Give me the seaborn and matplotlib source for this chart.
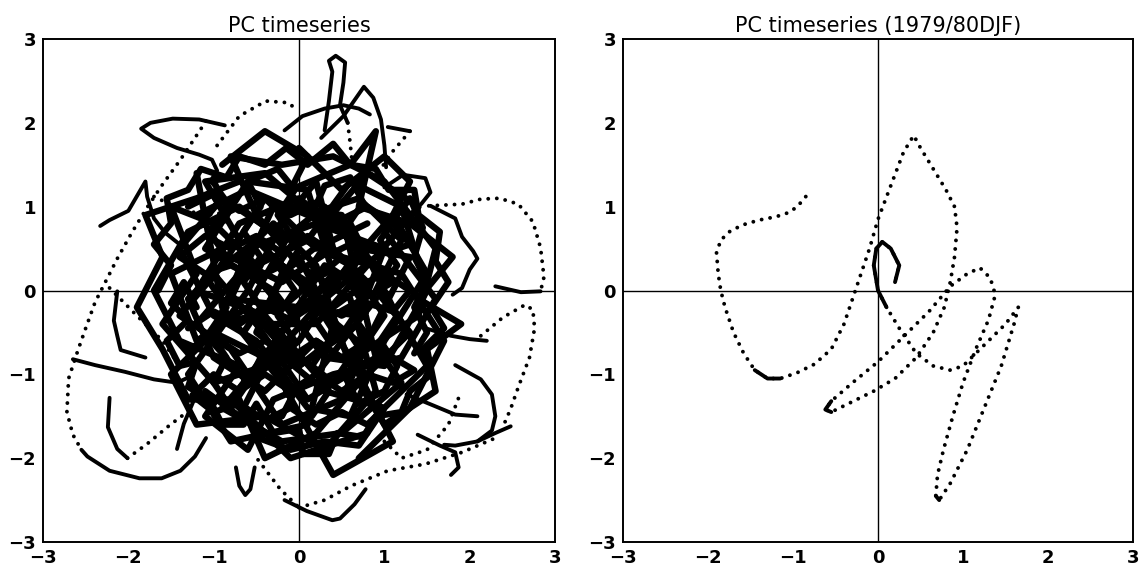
import numpy as np
import matplotlib
matplotlib.use("Agg")
import matplotlib.pyplot as plt
import seaborn as sns

# ---- right panel: 1979/80 DJF trajectory (PC1, PC2) ----
djf_x = [-0.85, -0.95, -1.05, -1.2, -1.4, -1.6, -1.75, -1.85, -1.9, -1.88, -1.85, -1.8, -1.7, -1.58,
         -1.45, -1.3, -1.15, -0.95, -0.75, -0.55, -0.4, -0.3, -0.2, -0.1, 0.0, 0.15, 0.3, 0.42,
         0.5, 0.65, 0.8, 0.9, 0.93, 0.9, 0.85, 0.78, 0.65, 0.45, 0.2, -0.05, -0.35, -0.55, -0.62,
         -0.55, -0.3, 0.0, 0.3, 0.6, 0.85, 1.05, 1.2, 1.32, 1.38, 1.3, 1.15, 1.0, 0.88, 0.77,
         0.7, 0.68, 0.72, 0.85, 1.05, 1.25, 1.45, 1.6, 1.65, 1.5, 1.3, 1.15, 1.0, 0.85, 0.65,
         0.45, 0.25, 0.1, 0.0, -0.05, -0.02, 0.05, 0.15, 0.25, 0.2]
djf_y = [1.12, 1.0, 0.93, 0.88, 0.84, 0.78, 0.7, 0.6, 0.45, 0.2, 0.0, -0.2, -0.5, -0.75,
         -0.95, -1.05, -1.05, -0.98, -0.88, -0.7, -0.4, -0.1, 0.2, 0.5, 0.85, 1.25, 1.65, 1.85,
         1.7, 1.45, 1.2, 1.0, 0.75, 0.4, 0.1, -0.2, -0.5, -0.8, -1.05, -1.2, -1.35, -1.45, -1.42,
         -1.32, -1.1, -0.85, -0.55, -0.25, 0.05, 0.2, 0.27, 0.15, -0.05, -0.35, -0.7, -1.1, -1.5, -1.9,
         -2.2, -2.45, -2.5, -2.3, -1.9, -1.4, -0.9, -0.4, -0.2, -0.4, -0.6, -0.75, -0.9, -0.95, -0.9,
         -0.75, -0.45, -0.2, 0.0, 0.3, 0.5, 0.58, 0.5, 0.3, 0.1]

# ---- left panel: outer excursions (sparse = dotted, slow = solid) ----
outer_dotted = [
    [(-1.09, 2.02), (-1.22, 1.82), (-1.39, 1.56), (-1.61, 1.25), (-1.78, 0.99), (-1.96, 0.69),
     (-2.13, 0.38), (-2.26, 0.12), (-2.39, -0.14), (-2.5, -0.45), (-2.59, -0.71), (-2.7, -1.05),
     (-2.72, -1.45), (-2.65, -1.72), (-2.55, -1.9)],
    [(-2.01, -2.0), (-1.78, -1.83), (-1.52, -1.61), (-1.26, -1.41)],
    [(-0.96, 1.73), (-0.7, 2.08), (-0.39, 2.26), (-0.13, 2.24), (-0.04, 2.17)],
    [(1.52, 1.01), (1.91, 1.03), (2.13, 1.09), (2.35, 1.10), (2.57, 1.03), (2.74, 0.82),
     (2.83, 0.51), (2.87, 0.16), (2.83, -0.01)],
    [(2.13, -0.54), (2.39, -0.32), (2.65, -0.17), (2.74, -0.23), (2.76, -0.45), (2.7, -0.8),
     (2.57, -1.15), (2.48, -1.41), (2.4, -1.6)],
    [(0.0, -2.59), (0.3, -2.5), (0.61, -2.33), (1.04, -2.15), (1.48, -2.07), (1.91, -1.93),
     (2.3, -1.76)],
    [(-0.48, -2.02), (-0.22, -2.37), (0.0, -2.59)],
    [(1.30, 1.90), (1.09, 1.65), (0.91, 1.38)],
    [(0.57, 2.0), (0.6, 1.75), (0.63, 1.45)],
    [(-1.7, 1.12), (-1.35, 0.95), (-1.0, 0.9), (-0.7, 1.0)],
    [(-2.22, 0.03), (-1.9, -0.3), (-1.6, -0.6), (-1.4, -0.9)],
    [(1.0, -1.8), (1.2, -2.0), (1.5, -1.9), (1.75, -1.6), (1.9, -1.2)],
]
outer_solid = [
    [(-0.87, 1.97), (-1.17, 2.04), (-1.48, 2.05), (-1.74, 2.0), (-1.85, 1.93), (-1.7, 1.82),
     (-1.43, 1.7), (-1.17, 1.62), (-1.02, 1.56), (-0.96, 1.43), (-1.04, 1.3), (-0.91, 1.17),
     (-0.78, 0.99), (-0.87, 0.82)],
    [(-2.33, 0.77), (-2.22, 0.84), (-2.0, 0.95), (-1.8, 1.3), (-1.78, 1.12), (-1.7, 0.86),
     (-1.57, 0.69), (-1.35, 0.51)],
    [(-2.65, -0.82), (-2.39, -0.89), (-2.04, -0.97), (-1.7, -1.06), (-1.43, -1.1), (-1.26, -1.02)],
    [(-2.55, -1.9), (-2.48, -1.98), (-2.22, -2.15), (-1.87, -2.24), (-1.61, -2.24), (-1.39, -2.15),
     (-1.22, -1.98), (-1.09, -1.76)],
    [(-2.22, -1.28), (-2.24, -1.63), (-2.13, -1.89), (-2.01, -2.0)],
    [(-2.13, -0.01), (-2.17, -0.36), (-2.13, -0.54), (-2.09, -0.71), (-1.8, -0.8)],
    [(-0.17, -2.5), (0.09, -2.63), (0.39, -2.74), (0.48, -2.72), (0.65, -2.55), (0.78, -2.37)],
    [(1.83, -0.89), (2.13, -1.06), (2.26, -1.24), (2.3, -1.5), (2.26, -1.67), (2.09, -1.8),
     (1.83, -1.85), (1.7, -1.84)],
    [(2.09, -1.8), (2.3, -1.7), (2.48, -1.62)],
    [(1.26, -1.24), (1.57, -1.37), (1.83, -1.48), (2.09, -1.5)],
    [(1.48, -0.45), (1.78, -0.54), (2.0, -0.58), (2.2, -0.6)],
    [(1.0, 1.23), (1.22, 1.38), (1.48, 1.34), (1.54, 1.17), (1.43, 1.03)],
    [(1.54, 1.01), (1.83, 0.86), (1.91, 0.64), (2.04, 0.47), (2.09, 0.38), (2.0, 0.25),
     (1.91, 0.03), (1.8, -0.05)],
    [(0.3, 1.91), (0.35, 2.26), (0.39, 2.61), (0.35, 2.74), (0.43, 2.8), (0.54, 2.72),
     (0.52, 2.48), (0.48, 2.21), (0.57, 2.0)],
    [(0.26, 1.82), (0.52, 2.08), (0.76, 2.43), (0.87, 2.3), (0.96, 2.04), (1.0, 1.73), (1.02, 1.47)],
    [(1.04, 1.95), (1.30, 1.90)],
    [(-0.17, 1.91), (0.04, 2.08), (0.3, 2.17), (0.52, 2.21), (0.7, 2.17), (0.83, 2.1)],
    [(-0.74, -2.11), (-0.7, -2.33), (-0.63, -2.44), (-0.57, -2.37), (-0.52, -2.11)],
    [(-1.43, -1.89), (-1.35, -1.59), (-1.22, -1.28)],
    [(1.39, -1.72), (1.65, -1.85), (1.83, -1.93), (1.87, -2.11), (1.78, -2.2)],
    [(2.83, -0.01), (2.6, -0.02), (2.3, 0.05)],
]

# ---- left panel: the dense core of the tangle ----
core_paths = [
    [(-1.2, 0.9), (-0.6, 1.2), (0.1, 0.9), (0.7, 1.1), (1.2, 0.6), (0.9, 0.0), (1.3, -0.5), (0.8, -1.0),
     (0.2, -0.6), (-0.4, -1.2), (-1.0, -0.8), (-1.3, -0.1), (-0.8, 0.4), (-0.2, 0.1), (0.4, 0.5),
     (0.2, 1.3), (-0.3, 0.7), (-0.9, 1.1), (-1.4, 0.5), (-1.0, -0.3), (-0.5, -0.6), (0.1, -1.4),
     (0.6, -1.5), (1.0, -0.6), (1.5, 0.2), (1.1, 0.9), (0.5, 0.2), (-0.1, -0.3), (-0.7, -1.5), (-1.1, -1.2)],
    [(0.3, -0.1), (0.9, 0.4), (1.4, 1.0), (0.8, 1.4), (0.3, 0.8), (-0.4, 1.4), (-1.1, 1.3), (-0.7, 0.6),
     (-1.5, 0.2), (-1.2, -0.6), (-0.6, -0.2), (0.0, -0.9), (0.7, -0.4), (1.2, -1.1), (0.5, -1.7),
     (-0.2, -1.8), (-0.9, -1.4), (-0.3, -0.7), (0.3, -1.2), (1.0, -1.4), (1.5, -0.9), (1.1, -0.2),
     (0.6, 0.8), (-0.1, 1.0), (-0.6, 0.0), (-1.3, -1.0), (-0.8, -1.8), (0.1, -1.6), (0.4, -0.4), (0.0, 0.4)],
    [(-0.5, 0.3), (-1.0, 0.8), (-1.5, 1.0), (-1.2, 0.2), (-1.6, -0.4), (-1.0, -1.1), (-0.4, -0.9),
     (0.2, -0.2), (0.8, -0.7), (1.4, -0.3), (1.6, 0.5), (1.0, 1.3), (0.4, 1.6), (-0.2, 1.5), (-0.8, 1.6),
     (-0.5, 0.9), (0.0, 0.3), (0.6, -0.1), (0.9, -1.2), (0.3, -1.9), (-0.4, -1.5), (-1.2, -1.6),
     (-1.5, -1.0), (-0.9, -0.4), (-0.2, -0.2), (0.5, 0.4), (1.2, 0.2), (1.7, -0.6), (1.3, -1.4), (0.7, -2.0)],
    [(0.0, 1.7), (0.5, 1.2), (1.0, 1.6), (1.3, 1.3), (1.0, 0.7), (1.6, -0.1), (1.2, -0.8), (0.4, -1.0),
     (-0.3, -1.3), (-0.6, -1.9), (-1.1, -1.5), (-0.7, -0.9), (-1.4, -0.6), (-1.7, 0.0), (-1.3, 0.7),
     (-0.7, 1.0), (-0.2, 0.6), (0.3, 1.0), (0.8, 0.3), (0.2, -0.4), (-0.5, -0.4), (-1.0, 0.2),
     (-0.5, 0.6), (0.1, 0.0), (0.6, -0.8), (1.1, -1.8), (0.4, -2.2), (-0.2, -1.1), (-0.9, -0.2), (-1.2, 1.4)],
    [(0.8, 0.8), (0.2, 0.5), (-0.4, 1.1), (-0.9, 0.3), (-1.4, -0.3), (-0.8, -0.7), (-0.2, -1.6),
     (0.5, -1.3), (0.9, -0.4), (1.3, 0.4), (0.7, 0.5), (0.0, -0.6), (-0.6, -1.1), (-1.2, -0.4),
     (-0.7, 0.2), (0.1, 0.6), (0.6, 1.3), (1.2, 1.0), (1.5, 0.0), (1.0, -0.9), (0.3, -0.8), (-0.3, 0.0),
     (-1.1, 0.5), (-0.6, 1.3), (0.1, 1.2), (0.4, 0.2), (-0.2, -0.5), (-0.8, -1.3), (-0.1, -2.0), (0.8, -1.7)],
    [(-0.3, 0.4), (0.4, -0.3), (1.1, 0.1), (0.6, 0.6), (0.0, 1.1), (-0.7, 0.8), (-1.2, 0.0), (-0.4, -0.3),
     (0.2, -1.0), (0.9, -0.1), (0.3, 0.3), (-0.4, -0.8), (-1.0, -0.5), (-0.6, 0.5), (0.2, 0.8), (1.0, 0.5),
     (0.7, -0.3), (0.0, -0.2), (-0.8, -0.1), (-0.3, 1.0), (0.5, 0.9), (0.9, -0.8), (0.1, -1.3),
     (-0.5, -0.4), (0.0, 0.5)],
    [(-0.9, 1.5), (-0.4, 1.9), (0.1, 1.6), (-0.1, 1.2), (0.6, 1.5), (0.9, 1.9), (0.7, 1.0), (1.3, 0.8),
     (1.8, 0.4), (1.4, -0.1), (1.9, -0.4), (1.5, -0.7), (1.6, -1.2), (1.0, -1.6), (0.7, -1.1), (0.2, -1.7),
     (-0.4, -2.0), (-0.7, -1.3), (-1.3, -1.3), (-1.6, -0.7), (-1.9, -0.2), (-1.6, 0.4), (-1.8, 0.9),
     (-1.2, 1.1), (-0.7, 1.3)],
    [(0.1, 0.1), (0.5, -0.5), (0.0, -0.9), (-0.5, -0.5), (-0.2, 0.2), (0.3, 0.6), (0.8, 0.1), (0.4, -0.2),
     (-0.2, -0.2), (-0.7, 0.4), (-0.3, 0.8), (0.2, 0.3), (0.6, -0.9), (1.0, -0.3), (0.6, 0.3), (-0.1, 0.7),
     (-0.6, -0.2), (-0.1, -0.7), (0.4, -1.1), (0.8, -0.5)],
    [(-1.3, 1.0), (-1.0, 1.15), (-0.7, 0.95), (-0.4, 1.1), (-0.1, 0.9), (0.2, 1.05), (0.5, 0.85), (0.8, 1.0),
     (1.1, 0.8), (1.3, 0.55), (1.0, 0.45), (0.7, 0.6), (0.4, 0.45), (0.1, 0.65), (-0.2, 0.45), (-0.5, 0.65),
     (-0.8, 0.5), (-1.1, 0.65), (-1.4, 0.4), (-1.1, 0.2), (-0.8, 0.3), (-0.5, 0.15), (-0.2, 0.3), (0.1, 0.1),
     (0.4, 0.25), (0.7, 0.05), (1.0, 0.2), (1.3, 0.0), (1.1, -0.25), (0.8, -0.15), (0.5, -0.3), (0.2, -0.15),
     (-0.1, -0.35), (-0.4, -0.2), (-0.7, -0.4), (-1.0, -0.25), (-1.3, -0.45)],
    [(-1.3, -0.7), (-1.0, -0.55), (-0.7, -0.75), (-0.4, -0.6), (-0.1, -0.8), (0.2, -0.6), (0.5, -0.8),
     (0.8, -0.6), (1.1, -0.8), (1.35, -0.95), (1.1, -1.1), (0.8, -1.0), (0.5, -1.2), (0.2, -1.0),
     (-0.1, -1.2), (-0.4, -1.0), (-0.7, -1.2), (-1.0, -1.0), (-1.25, -1.25), (-1.0, -1.45), (-0.7, -1.35),
     (-0.4, -1.55), (-0.1, -1.4), (0.2, -1.6), (0.5, -1.45), (0.8, -1.6), (1.0, -1.4), (0.7, -1.85),
     (0.3, -1.8), (-0.1, -1.9), (-0.5, -1.75)],
    [(-1.0, 1.3), (-0.85, 1.0), (-1.05, 0.7), (-0.85, 0.4), (-1.05, 0.1), (-0.85, -0.2), (-1.05, -0.5),
     (-0.85, -0.8), (-1.0, -1.1), (-0.8, -1.4), (-0.6, -1.1), (-0.45, -0.8), (-0.65, -0.5), (-0.45, -0.2),
     (-0.65, 0.1), (-0.45, 0.4), (-0.65, 0.7), (-0.45, 1.0), (-0.6, 1.3), (-0.25, 1.45), (-0.05, 1.2),
     (-0.25, 0.9), (-0.05, 0.6), (-0.25, 0.3), (-0.05, 0.0), (-0.25, -0.3), (-0.05, -0.6), (-0.25, -0.9),
     (-0.05, -1.2), (-0.2, -1.5)],
    [(0.15, -1.5), (0.35, -1.2), (0.15, -0.9), (0.35, -0.6), (0.15, -0.3), (0.35, 0.0), (0.15, 0.3),
     (0.35, 0.6), (0.15, 0.9), (0.3, 1.25), (0.6, 1.35), (0.75, 1.05), (0.55, 0.75), (0.75, 0.45),
     (0.55, 0.15), (0.75, -0.15), (0.55, -0.45), (0.75, -0.75), (0.55, -1.05), (0.7, -1.35), (1.0, -1.2),
     (1.15, -0.9), (0.95, -0.6), (1.15, -0.3), (0.95, 0.0), (1.15, 0.3), (0.95, 0.6), (1.15, 0.9),
     (1.3, 1.1), (1.45, 0.75), (1.35, 0.4), (1.5, 0.1), (1.35, -0.2), (1.5, -0.5), (1.35, -0.75)],
    [(-1.2, -0.2), (-1.35, 0.1), (-1.5, -0.15), (-1.3, -0.35), (-1.55, -0.6), (-1.4, -0.9), (-1.2, -0.85),
     (-1.3, -1.15), (-1.05, -1.3), (-0.9, -1.6), (-0.65, -1.6), (-0.5, -1.35), (-0.3, -1.7), (0.0, -1.65),
     (0.05, -1.95), (0.35, -1.95), (0.45, -1.7), (0.75, -1.75), (0.9, -1.5), (1.2, -1.45), (1.3, -1.2),
     (1.55, -1.0), (1.45, -0.7), (1.7, -0.45), (1.55, -0.2), (1.75, 0.1), (1.6, 0.35), (1.65, 0.7),
     (1.4, 0.9), (1.35, 1.2), (1.05, 1.2), (0.9, 1.45), (0.6, 1.5), (0.4, 1.75), (0.1, 1.5), (-0.15, 1.7),
     (-0.4, 1.5), (-0.7, 1.6), (-0.85, 1.35), (-1.15, 1.45), (-1.3, 1.2), (-1.55, 1.1), (-1.5, 0.8),
     (-1.7, 0.55), (-1.5, 0.3), (-1.65, 0.0)],
]

ticks = [-3, -2, -1, 0, 1, 2, 3]
titles = ["PC timeseries", "PC timeseries (1979/80DJF)"]

sns.set_style("white")
plt.rcParams['font.family'] = ['DejaVu Sans']
plt.rcParams['text.color'] = 'black'

DOTS = dict(color="black", linewidth=2.8, linestyle=(0, (0.01, 2.2)), dash_capstyle="round")
SOLID = dict(color="black", linewidth=2.8, solid_capstyle="round", solid_joinstyle="round")


def draw_path(ax, pts, style):
    arr = np.array(pts)
    sns.lineplot(x=arr[:, 0], y=arr[:, 1], sort=False, estimator=None, ax=ax, **style)


def style_axes(ax, title):
    ax.axhline(0, color="black", linewidth=1.0, zorder=0)
    ax.axvline(0, color="black", linewidth=1.0, zorder=0)
    ax.set_xlim(-3, 3)
    ax.set_ylim(-3, 3)
    ax.set_xticks(ticks)
    ax.set_yticks(ticks)
    ax.set_xticklabels([str(t).replace("-", "\u2212") for t in ticks], fontweight="bold")
    ax.set_yticklabels([str(t).replace("-", "\u2212") for t in ticks], fontweight="bold")
    ax.tick_params(direction="inout", length=8, width=1.3, labelsize=13, pad=1,
                   color="black", labelcolor="black")
    for s in ax.spines.values():
        s.set_linewidth(1.4)
        s.set_color("black")
    ax.set_title(title, fontsize=15, pad=5, color="black")
    ax.set_xlabel("")
    ax.set_ylabel("")


fig = plt.figure(figsize=(11.44, 5.70), dpi=100)
ax1 = fig.add_axes([0.0376, 0.0491, 0.4476, 0.8825])
ax2 = fig.add_axes([0.5446, 0.0491, 0.4458, 0.8825])

for p in core_paths:
    draw_path(ax1, p, dict(SOLID, linewidth=4.6))
for p in outer_solid:
    draw_path(ax1, p, SOLID)
for p in outer_dotted:
    draw_path(ax1, p, DOTS)
style_axes(ax1, titles[0])

djf = list(zip(djf_x, djf_y))
draw_path(ax2, djf, DOTS)
# slow parts of the trajectory: dots merge into a line
draw_path(ax2, djf[75:], SOLID)
draw_path(ax2, djf[14:17], SOLID)
draw_path(ax2, djf[41:44], SOLID)
draw_path(ax2, djf[59:61], SOLID)
style_axes(ax2, titles[1])

fig.savefig("out.png", dpi=100)
